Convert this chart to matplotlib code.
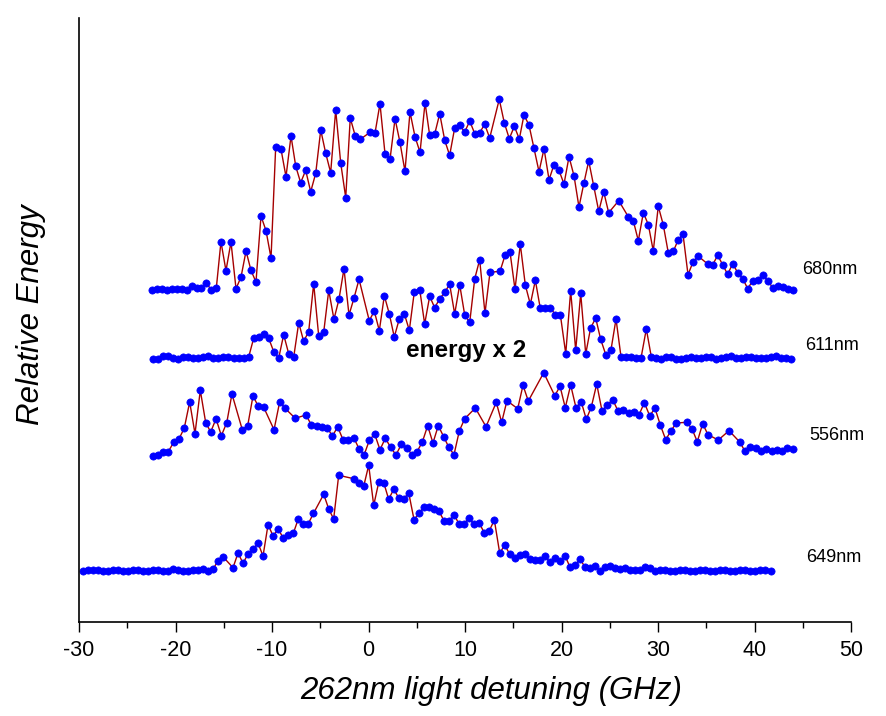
import matplotlib
matplotlib.use("Agg")
import matplotlib.pyplot as plt
from matplotlib.ticker import MultipleLocator

plt.rcParams['font.family'] = ['Liberation Sans', 'DejaVu Sans']

# ---- data: detuning (GHz) and relative energy (arbitrary units, vertically offset traces) ----
x_680 = [-22.47, -21.95, -21.43, -20.91, -20.39, -19.88, -19.36, -18.84, -18.32, -17.80,
         -17.33, -16.81, -16.29, -15.77, -15.29, -14.77, -14.25, -13.73, -13.21, -12.69,
         -12.18, -11.66, -11.14, -10.62, -10.10, -9.62, -9.07, -8.55, -8.03, -7.54,
         -7.03, -6.51, -5.99, -5.47, -4.95, -4.44, -3.92, -3.40, -2.88, -2.36,
         -1.89, -1.37, -0.85,
         0.16, 0.67, 1.19, 1.71, 2.23, 2.75, 3.26, 3.78, 4.30, 4.82,
         5.34, 5.86, 6.34, 6.86, 7.38, 7.90, 8.41, 8.93, 9.45, 9.97,
         10.49, 11.01, 11.52, 12.04, 12.56,
         13.55, 14.07, 14.59, 15.11, 15.63, 16.11, 16.63, 17.15, 17.67, 18.19,
         18.71, 19.22, 19.74, 20.26, 20.78, 21.30, 21.81, 22.33, 22.82,
         23.34, 23.86, 24.37, 24.89, 25.93,
         26.92, 27.44, 27.96, 28.48, 29.00, 29.51, 30.03, 30.55, 31.07, 31.59,
         32.07, 32.59, 33.11, 33.63, 34.15,
         35.15, 35.67, 36.19, 36.71, 37.22, 37.74, 38.26, 38.78, 39.30, 39.81,
         40.33, 40.85, 41.37, 41.89, 42.41, 42.92, 43.44, 43.96]
e_680 = [332.3, 333, 333.3, 332, 333, 333.3, 333, 332, 336, 333.7,
         333.7, 338.7, 332.3, 334, 380.3, 351.3, 380, 333.3, 345, 371,
         351.7, 340, 406, 391.3, 364, 474.7, 473, 445.3, 486, 455.7,
         439.3, 451.7, 430.3, 448.7, 492, 469, 449.3, 512, 459, 424.3,
         504, 486, 482.7,
         489.7, 488.7, 518.3, 468.3, 462.7, 503.3, 479.7, 450.7, 510, 485.3,
         469.7, 519.3, 486.7, 488, 508.3, 481.7, 466.7, 494, 496.7, 490,
         501, 488.3, 489.3, 497.7, 484,
         522.7, 499.3, 483.3, 495.7, 483, 507, 497, 473.7, 450.3, 473.3,
         442.3, 457.3, 451.7, 438, 465.3, 446, 415, 439.3, 461,
         436, 410.7, 430.3, 409.3, 421.3,
         405.3, 401.3, 381.3, 409.3, 397.3, 371, 415.7, 397, 369, 370.7,
         381.7, 388, 347.3, 360, 366,
         358, 357.3, 366.7, 357, 347.7, 358.3, 349.3, 343.3, 333.3, 341.3,
         341.7, 347.3, 341.3, 334.3, 335.7, 335, 333, 332.3]

x_611 = [-22.36, -21.85, -21.33, -20.81, -20.29, -19.77, -19.25, -18.74, -18.22, -17.70,
         -17.18, -16.66, -16.15, -15.63, -15.11, -14.59, -13.97, -13.45, -12.93, -12.41,
         -11.90, -11.38, -10.86, -10.34, -9.82, -9.31, -8.79, -8.27, -7.75, -7.23,
         -6.72, -6.20, -5.68, -5.16, -4.64, -4.12, -3.58, -3.06, -2.54, -2.02,
         -1.50, -0.98,
         0.08, 0.60, 1.12, 1.64, 2.16, 2.67, 3.19, 3.71, 4.23, 4.75,
         5.31, 5.82, 6.34, 6.86, 7.38, 7.90, 8.41, 8.93, 9.45, 9.97,
         10.49, 11.01, 11.52, 12.07, 12.59,
         13.63, 14.15, 14.66, 15.18,
         15.73, 16.25, 16.77, 17.29, 17.80, 18.32, 18.84, 19.36, 19.88,
         20.44, 20.95, 21.47, 21.99, 22.51, 23.01,
         23.54, 24.06, 24.61, 25.13, 25.65, 26.17, 26.68, 27.20, 27.72, 28.24,
         28.79, 29.31, 29.82, 30.34, 30.86, 31.38, 31.90, 32.41, 32.93, 33.45,
         33.97, 34.49, 35.01, 35.52, 36.04, 36.56, 37.08, 37.60, 38.11, 38.63,
         39.15, 39.67, 40.19, 40.71, 41.22, 41.74, 42.26, 42.78, 43.30, 43.81]
e_611 = [263, 263.3, 265.7, 265.7, 264.3, 263.3, 265.3, 265.3, 263.7, 263.7,
         265.3, 265.7, 264, 264, 265.3, 265.3, 263.7, 264, 263.7, 265.3,
         283.7, 285, 288, 283.7, 270.3, 263.7, 287.3, 268.3, 265, 299.3,
         280.7, 290.3, 338.3, 286, 290, 331.7, 302.7, 322.7, 353.3, 307,
         324, 342.7,
         301.3, 311, 291.3, 326.3, 308, 285, 303, 308.3, 291.7, 330.3,
         332.3, 298, 325.7, 314.3, 323.3, 329.7, 337.7, 308, 337.3, 307,
         299.7, 343.3, 362.3, 308.7, 349.7,
         350.7, 366.7, 370.3, 332.7,
         377.7, 337, 317.7, 341.7, 313.7, 313.7, 314.3, 307.3, 307.3,
         268.3, 331.3, 271.7, 328.7, 268, 293.7,
         304, 282.7, 266.7, 272.3, 303, 265, 265, 265.3, 263.7, 264,
         293, 265, 263.7, 263.3, 265, 265, 263, 263.3, 264.3, 265.3,
         264, 263.7, 265.3, 265.3, 263.3, 264, 265.3, 265.7, 263.7, 263.7,
         265, 265.3, 263.7, 263.7, 263.7, 265.3, 266.3, 264, 264, 263.3]

x_556 = [-22.36, -21.85, -21.33, -20.75, -20.19, -19.64, -19.09, -18.53, -17.98, -17.43,
         -16.87, -16.35, -15.80, -15.25, -14.69, -14.15, -13.08, -12.52, -11.97, -11.42,
         -10.86, -9.79, -9.20, -8.65, -7.59, -6.48, -5.93, -5.37, -4.82, -4.27,
         -3.75, -3.19, -2.64, -2.09, -1.53, -0.98, -0.44, 0.10, 0.64, 1.19,
         1.74, 2.30, 2.85, 3.40, 3.96, 4.51, 5.03, 5.58, 6.13, 6.68,
         7.23, 7.79, 8.31, 8.86, 9.41, 9.97, 11.07, 12.18, 13.24, 13.80,
         14.35, 15.46, 16.01, 16.56, 18.16, 19.30, 19.85, 20.39, 20.95, 21.50,
         22.04, 22.57, 23.09, 23.65, 24.20, 24.75, 25.31, 25.86, 26.40, 26.96,
         27.51, 28.03, 28.58, 29.14, 29.69, 30.24, 30.80, 31.35, 31.90, 32.97,
         33.52, 34.07, 34.63, 35.18, 36.25, 37.36, 38.47, 39.02, 39.56, 40.12,
         40.67, 41.22, 41.78, 42.33, 42.85, 43.40, 43.96]
e_556 = [166.3, 167.3, 170, 170.3, 179.7, 183, 194, 220, 188.3, 231.7,
         199.3, 190, 203.3, 186.3, 199.3, 228, 192.3, 196.3, 226, 215.7,
         214.7, 192.3, 220.3, 213.7, 203.7, 207, 197.3, 196.3, 195, 194.3,
         186, 195, 182.3, 182.3, 184.3, 173.3, 167.5, 182, 188, 172.3,
         183.7, 174.7, 167, 177.7, 174.3, 167.3, 170.3, 180, 196.3, 179,
         196.3, 185.3, 175, 167.3, 191, 203.3, 214, 195.3, 219.7, 199.7,
         221.3, 213.3, 236.7, 221, 249.3, 226.3, 235.7, 214.3, 237, 214.3,
         220.3, 202.7, 215, 238, 211, 217.3, 222.3, 211, 212.3, 209,
         210, 207, 219.3, 206.3, 213.7, 197, 182.3, 191.3, 199, 199.7,
         193.3, 180.3, 198.3, 187.3, 182, 191.3, 180, 170.7, 174.7, 173.7,
         171.3, 173.3, 171, 172, 171.3, 174.3, 172.7]

x_649 = [-29.62, -29.10, -28.58, -28.06, -27.54, -27.03, -26.51, -25.99, -25.47, -24.95,
         -24.44, -23.92, -23.40, -22.88, -22.36, -21.85, -21.33, -20.81, -20.29, -19.77,
         -19.25, -18.74, -18.22, -17.70, -17.18, -16.63, -16.11, -15.60, -15.08, -14.04,
         -13.52, -13.00, -12.49, -11.97, -11.45, -10.93, -10.41, -9.90, -9.35, -8.83,
         -8.31, -7.79, -7.27, -6.76, -6.24, -5.70,
         -4.64, -4.12, -3.61, -3.09, -1.53, -1.02, -0.50, 0.02,
         0.54, 1.06, 1.58, 2.09, 2.61, 3.13, 3.65, 4.17,
         4.72, 5.23, 5.75, 6.27, 6.79, 7.31, 7.82, 8.34, 8.86, 9.38, 9.90, 10.41, 10.93,
         11.48, 12.00, 12.52, 13.04,
         13.60, 14.11, 14.63, 15.15, 15.67, 16.19, 16.71, 17.22, 17.74, 18.26, 18.78,
         19.33, 19.85, 20.36, 20.88, 21.40, 21.92, 22.44, 22.95, 23.47, 23.99,
         24.51, 25.03, 25.54, 26.06, 26.58, 27.10, 27.62, 28.13, 28.65, 29.17,
         29.69, 30.21, 30.73, 31.24, 31.76, 32.28, 32.80, 33.32, 33.83, 34.35,
         34.87, 35.39, 35.91, 36.43, 36.94, 37.46, 37.98, 38.50, 39.02, 39.53,
         40.05, 40.57, 41.09, 41.71]
e_649 = [51, 51.7, 52, 51.7, 50.7, 51, 52, 52.3, 51, 51,
         52, 52, 51, 51, 52, 52.3, 51, 51, 53, 52,
         51, 51, 52, 52.3, 52.7, 51.3, 52.7, 61.3, 65.3, 54.3,
         69, 58.7, 68, 73, 79, 66, 97.3, 86.3, 92.7, 84,
         87, 88.7, 103.3, 98.3, 98.3, 108.7,
         127.7, 113, 103, 146.7, 143.3, 139.3, 135.7, 156.7,
         116.7, 139.7, 139.3, 122.7, 132.7, 124.3, 123.3, 129,
         102.3, 108.7, 115, 114.7, 112.7, 110.7, 101.3, 101.3, 107, 98.3, 98.3, 104, 97.7,
         98.7, 89.3, 91.3, 102,
         68.7, 77, 68, 64.3, 66.7, 68.3, 62.7, 61.7, 62.3, 66.3, 59.7,
         64, 60.7, 66.3, 55, 57, 62.7, 55, 53.7, 56, 51.3,
         54.7, 56.3, 54.3, 53.3, 53.7, 52, 52.3, 52.3, 55.3, 53.7,
         51, 52.3, 52.3, 51, 51, 52, 52.3, 51, 51, 52,
         52.3, 51, 51, 52, 52, 51.3, 51, 52, 52, 50.7,
         51, 51.7, 52, 51]

series_names = ['680nm', '611nm', '556nm', '649nm']
label_pos = [(44.9, 352), (45.2, 276), (45.7, 186), (45.4, 65)]
xticks = [-30, -20, -10, 0, 10, 20, 30, 40, 50]

# ---- figure ----
W, H = 886, 716
fig = plt.figure(figsize=(W / 100, H / 100), dpi=100)
ax = fig.add_axes([79 / W, (H - 622) / H, (851 - 79) / W, (622 - 18) / H])

for xs, es in [(x_680, e_680), (x_611, e_611), (x_556, e_556), (x_649, e_649)]:
    ax.plot(xs, es, color='#A50000', lw=1.0, zorder=2,
            marker='o', markersize=5.2, markerfacecolor='#0000FF',
            markeredgecolor='#0000FF', markeredgewidth=0.5)

for name, (lx, ly) in zip(series_names, label_pos):
    ax.text(lx, ly, name, fontsize=13, ha='left', va='center', color='black')

ax.text(3.9, 272, 'energy x 2', fontsize=17.5, fontweight='bold', ha='left', va='center')

ax.set_xlim(-30, 50)
ax.set_ylim(0, 604)
ax.set_xticks(xticks)
ax.set_xticklabels([str(t) for t in xticks], fontsize=15.5)
ax.xaxis.set_minor_locator(MultipleLocator(5))
ax.tick_params(axis='x', which='major', direction='out', length=7, width=1, pad=6)
ax.tick_params(axis='x', which='minor', direction='out', length=4, width=1)
ax.set_yticks([])
ax.spines['top'].set_visible(False)
ax.spines['right'].set_visible(False)
ax.spines['left'].set_linewidth(1.2)
ax.spines['bottom'].set_linewidth(1.2)

ax.set_xlabel('262nm light detuning (GHz)', fontsize=22.5, fontstyle='italic')
ax.xaxis.set_label_coords((491 - 79) / (851 - 79), -0.089)
ax.set_ylabel('Relative Energy', fontsize=22.5, fontstyle='italic')
ax.yaxis.set_label_coords(-(79 - 46) / (851 - 79), 0.508)

fig.savefig('out.png', dpi=100)
